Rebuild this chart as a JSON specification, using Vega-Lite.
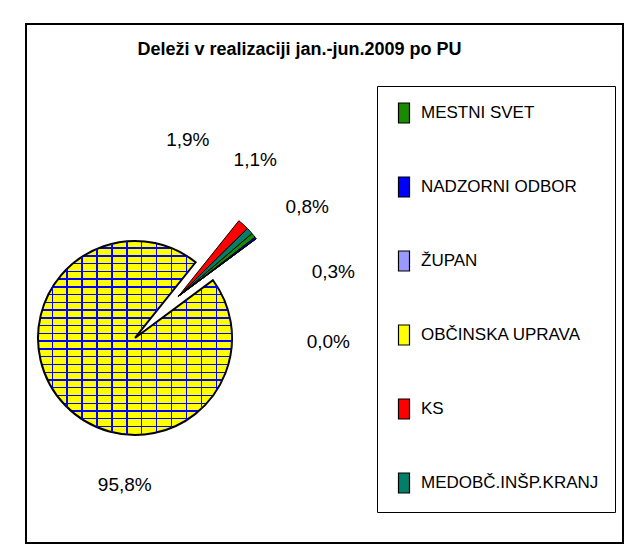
{
  "$schema": "https://vega.github.io/schema/vega-lite/v6.json",
  "width": 629,
  "height": 556,
  "autosize": {"type": "fit", "contains": "padding"},
  "padding": {"left": 26, "top": 24, "right": 6, "bottom": 13},
  "background": "white",
  "title": {
    "text": "Deleži v realizaciji jan.-jun.2009 po PU",
    "orient": "top",
    "anchor": "middle",
    "offset": -44,
    "baseline": "middle",
    "dx": -25,
    "font": "Liberation Sans, Arial, sans-serif",
    "fontSize": 18,
    "fontWeight": "bold",
    "color": "black"
  },
  "config": {
    "view": {"stroke": "black", "strokeWidth": 2},
    "locale": {"number": {"decimal": ",", "thousands": ".", "grouping": [3], "currency": ["", " €"]}},
    "text": {"font": "Liberation Sans, Arial, sans-serif", "fontSize": 19, "color": "black"}
  },
  "data": {
    "values": [
      {"name": "MESTNI SVET", "share": 0.008, "idx": 1},
      {"name": "NADZORNI ODBOR", "share": 0.003, "idx": 2},
      {"name": "ŽUPAN", "share": 0.0, "idx": 3},
      {"name": "OBČINSKA UPRAVA", "share": 0.958, "idx": 4},
      {"name": "KS", "share": 0.019, "idx": 5},
      {"name": "MEDOBČ.INŠP.KRANJ", "share": 0.011, "idx": 6}
    ]
  },
  "transform": [
    {"stack": "share", "groupby": [], "sort": [{"field": "idx", "order": "ascending"}], "as": ["s0", "s1"]}
  ],
  "layer": [
    {
      "transform": [{"filter": "datum.name === 'OBČINSKA UPRAVA'"}],
      "mark": {
        "type": "arc",
        "outerRadius": 97,
        "stroke": "black",
        "strokeWidth": 2,
        "fill": {
          "gradient": "linear", "x1": 0, "y1": 0, "x2": 0, "y2": 1,
          "stops": [
            {"offset": 0, "color": "#ffff00"}, {"offset": 0.0328, "color": "#ffff00"}, {"offset": 0.0328, "color": "#0000ff"}, {"offset": 0.04, "color": "#0000ff"},
            {"offset": 0.04, "color": "#ffff00"}, {"offset": 0.0728, "color": "#ffff00"}, {"offset": 0.0728, "color": "#0000ff"}, {"offset": 0.08, "color": "#0000ff"},
            {"offset": 0.08, "color": "#ffff00"}, {"offset": 0.1128, "color": "#ffff00"}, {"offset": 0.1128, "color": "#0000ff"}, {"offset": 0.12, "color": "#0000ff"},
            {"offset": 0.12, "color": "#ffff00"}, {"offset": 0.1528, "color": "#ffff00"}, {"offset": 0.1528, "color": "#0000ff"}, {"offset": 0.16, "color": "#0000ff"},
            {"offset": 0.16, "color": "#ffff00"}, {"offset": 0.1928, "color": "#ffff00"}, {"offset": 0.1928, "color": "#0000ff"}, {"offset": 0.2, "color": "#0000ff"},
            {"offset": 0.2, "color": "#ffff00"}, {"offset": 0.2328, "color": "#ffff00"}, {"offset": 0.2328, "color": "#0000ff"}, {"offset": 0.24, "color": "#0000ff"},
            {"offset": 0.24, "color": "#ffff00"}, {"offset": 0.2728, "color": "#ffff00"}, {"offset": 0.2728, "color": "#0000ff"}, {"offset": 0.28, "color": "#0000ff"},
            {"offset": 0.28, "color": "#ffff00"}, {"offset": 0.3128, "color": "#ffff00"}, {"offset": 0.3128, "color": "#0000ff"}, {"offset": 0.32, "color": "#0000ff"},
            {"offset": 0.32, "color": "#ffff00"}, {"offset": 0.3528, "color": "#ffff00"}, {"offset": 0.3528, "color": "#0000ff"}, {"offset": 0.36, "color": "#0000ff"},
            {"offset": 0.36, "color": "#ffff00"}, {"offset": 0.3928, "color": "#ffff00"}, {"offset": 0.3928, "color": "#0000ff"}, {"offset": 0.4, "color": "#0000ff"},
            {"offset": 0.4, "color": "#ffff00"}, {"offset": 0.4328, "color": "#ffff00"}, {"offset": 0.4328, "color": "#0000ff"}, {"offset": 0.44, "color": "#0000ff"},
            {"offset": 0.44, "color": "#ffff00"}, {"offset": 0.4728, "color": "#ffff00"}, {"offset": 0.4728, "color": "#0000ff"}, {"offset": 0.48, "color": "#0000ff"},
            {"offset": 0.48, "color": "#ffff00"}, {"offset": 0.5128, "color": "#ffff00"}, {"offset": 0.5128, "color": "#0000ff"}, {"offset": 0.52, "color": "#0000ff"},
            {"offset": 0.52, "color": "#ffff00"}, {"offset": 0.5528, "color": "#ffff00"}, {"offset": 0.5528, "color": "#0000ff"}, {"offset": 0.56, "color": "#0000ff"},
            {"offset": 0.56, "color": "#ffff00"}, {"offset": 0.5928, "color": "#ffff00"}, {"offset": 0.5928, "color": "#0000ff"}, {"offset": 0.6, "color": "#0000ff"},
            {"offset": 0.6, "color": "#ffff00"}, {"offset": 0.6328, "color": "#ffff00"}, {"offset": 0.6328, "color": "#0000ff"}, {"offset": 0.64, "color": "#0000ff"},
            {"offset": 0.64, "color": "#ffff00"}, {"offset": 0.6728, "color": "#ffff00"}, {"offset": 0.6728, "color": "#0000ff"}, {"offset": 0.68, "color": "#0000ff"},
            {"offset": 0.68, "color": "#ffff00"}, {"offset": 0.7128, "color": "#ffff00"}, {"offset": 0.7128, "color": "#0000ff"}, {"offset": 0.72, "color": "#0000ff"},
            {"offset": 0.72, "color": "#ffff00"}, {"offset": 0.7528, "color": "#ffff00"}, {"offset": 0.7528, "color": "#0000ff"}, {"offset": 0.76, "color": "#0000ff"},
            {"offset": 0.76, "color": "#ffff00"}, {"offset": 0.7928, "color": "#ffff00"}, {"offset": 0.7928, "color": "#0000ff"}, {"offset": 0.8, "color": "#0000ff"},
            {"offset": 0.8, "color": "#ffff00"}, {"offset": 0.8328, "color": "#ffff00"}, {"offset": 0.8328, "color": "#0000ff"}, {"offset": 0.84, "color": "#0000ff"},
            {"offset": 0.84, "color": "#ffff00"}, {"offset": 0.8728, "color": "#ffff00"}, {"offset": 0.8728, "color": "#0000ff"}, {"offset": 0.88, "color": "#0000ff"},
            {"offset": 0.88, "color": "#ffff00"}, {"offset": 0.9128, "color": "#ffff00"}, {"offset": 0.9128, "color": "#0000ff"}, {"offset": 0.92, "color": "#0000ff"},
            {"offset": 0.92, "color": "#ffff00"}, {"offset": 0.9528, "color": "#ffff00"}, {"offset": 0.9528, "color": "#0000ff"}, {"offset": 0.96, "color": "#0000ff"},
            {"offset": 0.96, "color": "#ffff00"}, {"offset": 0.9928, "color": "#ffff00"}, {"offset": 0.9928, "color": "#0000ff"}, {"offset": 1, "color": "#0000ff"}
          ]
        }
      },
      "encoding": {
        "x": {"datum": 0.1826, "type": "quantitative", "scale": {"domain": [0, 1], "nice": false, "zero": false}, "axis": null},
        "y": {"datum": 0.395, "type": "quantitative", "scale": {"domain": [0, 1], "nice": false, "zero": false}, "axis": null},
        "theta": {"field": "s0", "type": "quantitative", "scale": {"domain": [0, 0.999], "range": [0.864, 7.147]}},
        "theta2": {"field": "s1"}
      }
    },
    {
      "transform": [{"filter": "datum.name === 'OBČINSKA UPRAVA'"}],
      "mark": {
        "type": "arc",
        "outerRadius": 97,
        "strokeWidth": 0,
        "fill": {
          "gradient": "linear", "x1": 0, "y1": 0, "x2": 1, "y2": 0,
          "stops": [
            {"offset": 0, "color": "rgba(0,0,255,0)"}, {"offset": 0.0699, "color": "rgba(0,0,255,0)"}, {"offset": 0.0699, "color": "#0000ff"}, {"offset": 0.0769, "color": "#0000ff"},
            {"offset": 0.0769, "color": "rgba(0,0,255,0)"}, {"offset": 0.1468, "color": "rgba(0,0,255,0)"}, {"offset": 0.1468, "color": "#0000ff"}, {"offset": 0.1538, "color": "#0000ff"},
            {"offset": 0.1538, "color": "rgba(0,0,255,0)"}, {"offset": 0.2238, "color": "rgba(0,0,255,0)"}, {"offset": 0.2238, "color": "#0000ff"}, {"offset": 0.2308, "color": "#0000ff"},
            {"offset": 0.2308, "color": "rgba(0,0,255,0)"}, {"offset": 0.3007, "color": "rgba(0,0,255,0)"}, {"offset": 0.3007, "color": "#0000ff"}, {"offset": 0.3077, "color": "#0000ff"},
            {"offset": 0.3077, "color": "rgba(0,0,255,0)"}, {"offset": 0.3776, "color": "rgba(0,0,255,0)"}, {"offset": 0.3776, "color": "#0000ff"}, {"offset": 0.3846, "color": "#0000ff"},
            {"offset": 0.3846, "color": "rgba(0,0,255,0)"}, {"offset": 0.4545, "color": "rgba(0,0,255,0)"}, {"offset": 0.4545, "color": "#0000ff"}, {"offset": 0.4615, "color": "#0000ff"},
            {"offset": 0.4615, "color": "rgba(0,0,255,0)"}, {"offset": 0.5315, "color": "rgba(0,0,255,0)"}, {"offset": 0.5315, "color": "#0000ff"}, {"offset": 0.5385, "color": "#0000ff"},
            {"offset": 0.5385, "color": "rgba(0,0,255,0)"}, {"offset": 0.6084, "color": "rgba(0,0,255,0)"}, {"offset": 0.6084, "color": "#0000ff"}, {"offset": 0.6154, "color": "#0000ff"},
            {"offset": 0.6154, "color": "rgba(0,0,255,0)"}, {"offset": 0.6853, "color": "rgba(0,0,255,0)"}, {"offset": 0.6853, "color": "#0000ff"}, {"offset": 0.6923, "color": "#0000ff"},
            {"offset": 0.6923, "color": "rgba(0,0,255,0)"}, {"offset": 0.7622, "color": "rgba(0,0,255,0)"}, {"offset": 0.7622, "color": "#0000ff"}, {"offset": 0.7692, "color": "#0000ff"},
            {"offset": 0.7692, "color": "rgba(0,0,255,0)"}, {"offset": 0.8392, "color": "rgba(0,0,255,0)"}, {"offset": 0.8392, "color": "#0000ff"}, {"offset": 0.8462, "color": "#0000ff"},
            {"offset": 0.8462, "color": "rgba(0,0,255,0)"}, {"offset": 0.9161, "color": "rgba(0,0,255,0)"}, {"offset": 0.9161, "color": "#0000ff"}, {"offset": 0.9231, "color": "#0000ff"},
            {"offset": 0.9231, "color": "rgba(0,0,255,0)"}, {"offset": 0.993, "color": "rgba(0,0,255,0)"}, {"offset": 0.993, "color": "#0000ff"}, {"offset": 1, "color": "#0000ff"}
          ]
        }
      },
      "encoding": {
        "x": {"datum": 0.1826, "type": "quantitative", "scale": {"domain": [0, 1], "nice": false, "zero": false}, "axis": null},
        "y": {"datum": 0.395, "type": "quantitative", "scale": {"domain": [0, 1], "nice": false, "zero": false}, "axis": null},
        "theta": {"field": "s0", "type": "quantitative", "scale": {"domain": [0, 0.999], "range": [0.864, 7.147]}},
        "theta2": {"field": "s1"}
      }
    },
    {
      "transform": [{"filter": "datum.name !== 'OBČINSKA UPRAVA'"}],
      "mark": {"type": "arc", "outerRadius": 97, "stroke": "black", "strokeWidth": 1},
      "encoding": {
        "x": {"datum": 0.255, "type": "quantitative", "scale": {"domain": [0, 1], "nice": false, "zero": false}, "axis": null},
        "y": {"datum": 0.475, "type": "quantitative", "scale": {"domain": [0, 1], "nice": false, "zero": false}, "axis": null},
        "theta": {"field": "s0", "type": "quantitative", "scale": {"domain": [0, 0.999], "range": [0.864, 7.147]}},
        "theta2": {"field": "s1"},
        "fill": {
          "field": "name",
          "type": "nominal",
          "scale": {
            "domain": ["MESTNI SVET", "NADZORNI ODBOR", "ŽUPAN", "OBČINSKA UPRAVA", "KS", "MEDOBČ.INŠP.KRANJ"],
            "range": ["#1a8a00", "#0000ff", "#9999ff", "#ffff00", "#ff0000", "#00806a"]
          },
          "legend": {
            "title": null,
            "orient": "none",
            "legendX": 351,
            "legendY": 62,
            "padding": 16,
            "strokeColor": "black",
            "fillColor": "white",
            "symbolType": "M-0.55,-1H0.55V1H-0.55Z",
            "symbolSize": 400,
            "symbolStrokeColor": "black",
            "symbolStrokeWidth": 1.2,
            "labelFont": "Liberation Sans, Arial, sans-serif",
            "labelFontSize": 17,
            "labelColor": "black",
            "labelOffset": 6,
            "rowPadding": 48,
            "labelLimit": 300
          }
        }
      }
    },
    {
      "transform": [{"filter": "datum.name !== 'OBČINSKA UPRAVA'"}],
      "mark": {"type": "text", "radius": 157, "align": "center", "baseline": "middle"},
      "encoding": {
        "x": {"datum": 0.255, "type": "quantitative", "scale": {"domain": [0, 1], "nice": false, "zero": false}, "axis": null},
        "y": {"datum": 0.475, "type": "quantitative", "scale": {"domain": [0, 1], "nice": false, "zero": false}, "axis": null},
        "theta": {
          "field": "name",
          "type": "nominal",
          "scale": {"type": "point", "domain": ["KS", "MEDOBČ.INŠP.KRANJ", "MESTNI SVET", "NADZORNI ODBOR", "ŽUPAN"], "range": [0.061, 1.868]}
        },
        "text": {"field": "share", "type": "quantitative", "format": ".1%"}
      }
    },
    {
      "transform": [{"filter": "datum.name === 'OBČINSKA UPRAVA'"}],
      "mark": {"type": "text", "radius": 147, "align": "center", "baseline": "middle"},
      "encoding": {
        "x": {"datum": 0.1826, "type": "quantitative", "scale": {"domain": [0, 1], "nice": false, "zero": false}, "axis": null},
        "y": {"datum": 0.395, "type": "quantitative", "scale": {"domain": [0, 1], "nice": false, "zero": false}, "axis": null},
        "theta": {"field": "s0", "type": "quantitative", "scale": {"domain": [0, 0.999], "range": [3.142, 9.425]}},
        "text": {"field": "share", "type": "quantitative", "format": ".1%"}
      }
    }
  ],
  "resolve": {"scale": {"theta": "independent"}}
}
